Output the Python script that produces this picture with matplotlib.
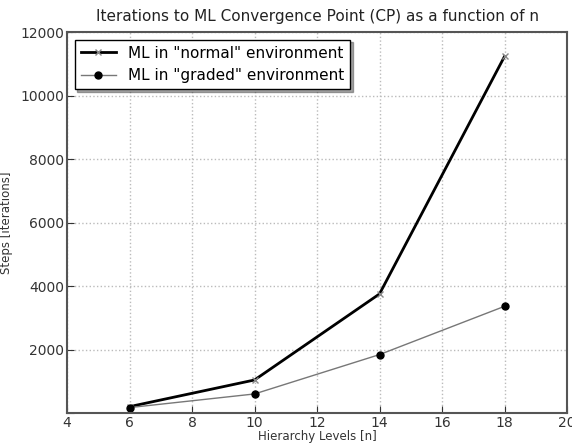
import matplotlib.pyplot as plt

levels = [6, 10, 14, 18]
normal_steps = [200, 1040, 3750, 11230]
graded_steps = [170, 600, 1840, 3360]

fig = plt.figure(figsize=(5.72, 4.44), dpi=100)
ax = fig.add_axes([67/572, 1 - 413/444, 500/572, 381/444])

ax.plot(levels, normal_steps, color='black', lw=2, marker='x', ms=5,
        mew=1, mec='#888888', label='ML in "normal" environment')
ax.plot(levels, graded_steps, color='#777777', lw=1, marker='o', ms=5,
        mfc='black', mec='black', label='ML in "graded" environment')

ax.set_xlim(4, 20)
ax.set_ylim(0, 12000)
ax.set_xticks(range(4, 21, 2))
ax.set_yticks(range(0, 12001, 2000))
ax.set_yticklabels(['', '2000', '4000', '6000', '8000', '10000', '12000'])
ax.grid(True, color='#bbbbbb', ls=':', lw=1)
ax.tick_params(direction='in', labelsize=10, colors='#333333', length=5, pad=2)
for s in ax.spines.values():
    s.set_linewidth(1.5)
    s.set_color('#555555')

ax.set_title('Iterations to ML Convergence Point (CP) as a function of n',
             fontsize=11, color='#222222', pad=8)
ax.set_xlabel('Hierarchy Levels [n]', fontsize=8.5, color='#333333', labelpad=0)
ax.set_ylabel('Steps [iterations]', fontsize=8.5, color='#333333')
ax.yaxis.set_label_coords(-0.108, 0.5)

leg = ax.legend(loc='upper left', fontsize=11, shadow=True, fancybox=False,
                framealpha=1, edgecolor='black', handlelength=2.3)
leg.get_frame().set_linewidth(1)

fig.savefig('out.png', dpi=100)
